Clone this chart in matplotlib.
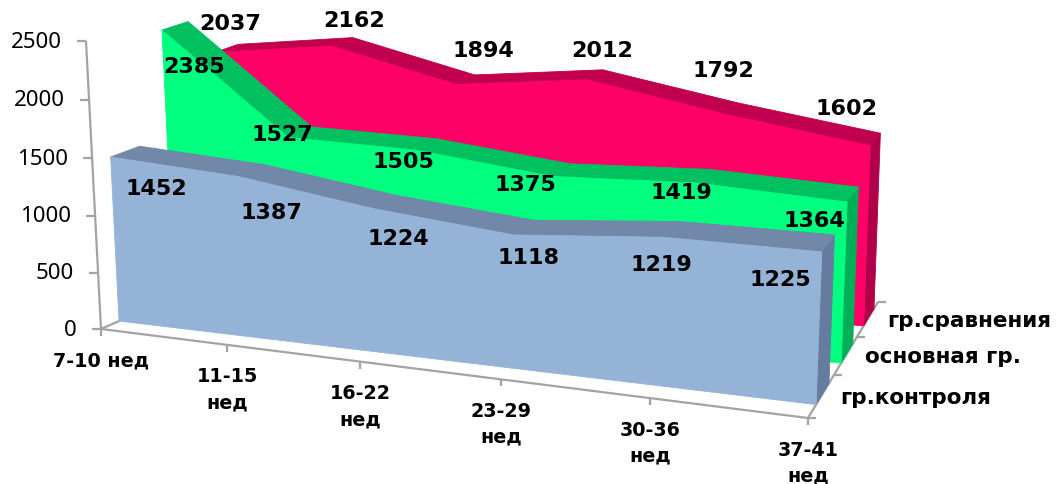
#!/usr/bin/env python3

import matplotlib
matplotlib.use('Agg')
import matplotlib.pyplot as plt
from matplotlib.patches import Polygon
import numpy as np

weeks = ['7-10 нед', '11-15\nнед', '16-22\nнед', '23-29\nнед', '30-36\nнед', '37-41\nнед']
y_ticks = [0, 500, 1000, 1500, 2000, 2500]

control_group = [1452, 1387, 1224, 1118, 1219, 1225]
main_group = [2385, 1527, 1505, 1375, 1419, 1364]
compare_group = [2037, 2162, 1894, 2012, 1792, 1602]

series_names = ['гр.контроля', 'основная гр.', 'гр.сравнения']

# label centres, one row per series, same order as the values
label_pos = [
    [(156, 189), (271, 213), (398, 239), (528, 258), (661, 265), (780, 280)],
    [(194, 67), (282, 135), (403, 162), (525, 185), (681, 193), (814, 221)],
    [(230, 24), (354, 21), (483, 51), (602, 51), (723, 71), (846, 109)],
]

colors = [
    ('#95B3D7', '#7288A8', '#667C9E'),
    ('#00FF7F', '#00C060', '#00B058'),
    ('#FF0066', '#C0004E', '#B0004A'),
]

# box corners on the canvas, index is (x end, depth end, height end)
corners = np.array([
    [[(101, 329), (86, 41)], [(257, 260), (245, -10)]],
    [[(808, 418), (820, 96)], [(878, 302), (888, 28)]],
], dtype=float)

X_MAX = len(weeks) - 1
DEPTH_MAX = len(series_names)
Z_MAX = y_ticks[-1]


def warp(t, k):
    # foreshortening along one box edge
    return t / (k - (k - 1) * t)


def project(x, depth, z):
    a = warp(x / X_MAX, 1.15)
    b = warp(depth / DEPTH_MAX, 0.85)
    c = warp(z / Z_MAX, 1.03)
    result = np.zeros(2)
    for i, wa in enumerate((1 - a, a)):
        for j, wb in enumerate((1 - b, b)):
            for m, wc in enumerate((1 - c, c)):
                result += wa * wb * wc * corners[i, j, m]
    return result


def face(ax, points, color, order):
    ax.add_patch(Polygon(points, closed=True, facecolor=color, edgecolor=color,
                         linewidth=0.6, zorder=order))


fig = plt.figure(figsize=(10.57, 4.84), dpi=100)
ax = fig.add_axes([0, 0, 1, 1])
ax.set_xlim(0, 1057)
ax.set_ylim(484, 0)
ax.axis('off')

axis_color = '#A3A3A3'


def axis_line(p, q):
    ax.plot([p[0], q[0]], [p[1], q[1]], color=axis_color, lw=1.6, zorder=1,
            solid_capstyle='butt')


# axes and their tick marks
axis_line(project(0, 0, 0), project(0, 0, Z_MAX))
axis_line(project(0, 0, 0), project(X_MAX, 0, 0))
axis_line(project(X_MAX, 0, 0), project(X_MAX, DEPTH_MAX, 0))
axis_line(project(0, 0, 0), project(0, DEPTH_MAX, 0))

for value in y_ticks:
    p = project(0, 0, value)
    axis_line(p, p + (-9, 0))
    ax.text(p[0] - 24, p[1] + 1, str(value), ha='right', va='center',
            fontsize=16, family='Noto Sans', color='black')

for i, name in enumerate(weeks):
    p = project(i, 0, 0)
    axis_line(p, p + (0, 7))
    for n, line in enumerate(name.split('\n')):
        ax.text(p[0], p[1] + 32 + 26 * n, line, ha='center', va='center',
                fontsize=13.8, fontweight='bold', color='black')

for d in range(DEPTH_MAX + 1):
    p = project(X_MAX, d, 0)
    axis_line(p, p + (8, 0))

# areas from the back row to the front row
series = [control_group, main_group, compare_group]
for s in [2, 1, 0]:
    values = series[s]
    front_color, top_color, side_color = colors[s]
    d0 = s + 0.3
    d1 = s + 0.8
    order = 10 + (2 - s) * 3

    side = [project(X_MAX, d0, 0), project(X_MAX, d1, 0),
            project(X_MAX, d1, values[-1]), project(X_MAX, d0, values[-1])]
    face(ax, side, side_color, order)

    for i in range(X_MAX):
        band = [project(i, d0, values[i]), project(i, d1, values[i]),
                project(i + 1, d1, values[i + 1]), project(i + 1, d0, values[i + 1])]
        face(ax, band, top_color, order)

    top = [project(i, d0, values[i]) for i in range(X_MAX + 1)]
    base = [project(X_MAX, d0, 0), project(0, d0, 0)]
    face(ax, top + base, front_color, order + 1)

    name_pos = project(X_MAX, s + 0.5, 0)
    ax.text(name_pos[0] + 19, name_pos[1] + 2, series_names[s], ha='left', va='center',
            fontsize=15.5, fontweight='bold', color='black', zorder=30)

    for value, pos in zip(values, label_pos[s]):
        ax.text(pos[0], pos[1], str(value), ha='center', va='center',
                fontsize=16, fontweight='bold', color='black', zorder=30)

plt.savefig('out.png', dpi=100)
plt.close()
